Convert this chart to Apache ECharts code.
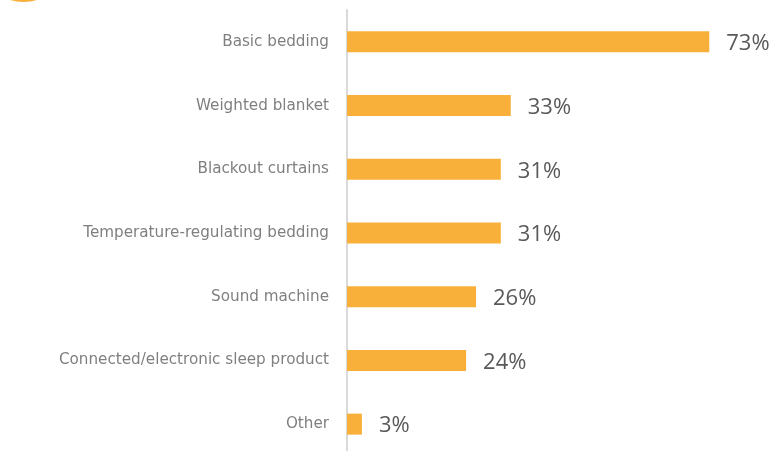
<!DOCTYPE html>
<html>
<head>
<meta charset="utf-8">
<script src="https://cdn.jsdelivr.net/npm/echarts@6/dist/echarts.min.js"></script>
<style>html,body{margin:0;padding:0;background:#fff;overflow:hidden;}#c{width:781px;height:460px;}</style>
</head>
<body>
<div id="c"></div>
<script>
const categories = ["Basic bedding","Weighted blanket","Blackout curtains","Temperature-regulating bedding","Sound machine","Connected/electronic sleep product","Other"];
const values = [73, 33, 31, 31, 26, 24, 3];

const chart = echarts.init(document.getElementById('c'), null, {renderer:'canvas'});
chart.setOption({
  animation: false,
  backgroundColor: '#fff',
  grid: {left: 347, top: 10, width: 397, height: 446, containLabel: false},
  xAxis: {type: 'value', min: 0, max: 80, show: false},
  yAxis: {
    type: 'category', data: categories, inverse: true,
    axisLine: {show: true, lineStyle: {color: '#d9d9d9', width: 2}},
    axisTick: {show: false},
    axisLabel: {color: '#7f7f7f', fontSize: 15.2, fontFamily: 'DejaVu Sans', margin: 18}
  },
  series: [{
    type: 'bar', data: values, barWidth: 21,
    itemStyle: {color: '#f8b03a'},
    label: {show: true, position: 'right', distance: 17, offset: [0, 2], formatter: '{c}%', color: '#595959', fontSize: 22, fontFamily: 'Open Sans'}
  }],
  graphic: [{type: 'circle', shape: {cx: 23.5, cy: -44.5, r: 46.5}, style: {fill: '#f8b03a'}}]
});
</script>
</body>
</html>
